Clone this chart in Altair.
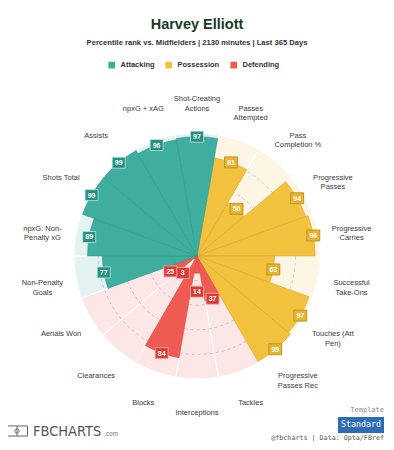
import math
import altair as alt
import pandas as pd

# ---------------- data ----------------
metrics = ["Passes\nAttempted", "Pass\nCompletion %", "Progressive\nPasses", "Progressive\nCarries",
           "Successful\nTake-Ons", "Touches (Att\nPen)", "Progressive\nPasses Rec",
           "Tackles", "Interceptions", "Blocks", "Clearances", "Aerials Won",
           "Non-Penalty\nGoals", "npxG: Non-\nPenalty xG", "Shots Total", "Assists",
           "npxG + xAG", "Shot-Creating\nActions"]
values = [81, 50, 94, 96, 63, 97, 99,
          37, 14, 84, 3, 25,
          77, 89, 99, 99, 96, 97]
groups = ["Possession"] * 7 + ["Defending"] * 5 + ["Attacking"] * 6

group_names = ["Attacking", "Possession", "Defending"]
bar_colors = ["#3fae9f", "#f2c13e", "#ee5b53"]
bg_colors = ["#e4f2f1", "#fdf6e4", "#fde6e6"]
edge_colors = ["#2f978a", "#d6a630", "#d9463f"]
box_fills = ["#26907f", "#e8b42e", "#dc3b35"]
box_edges = ["#bfe4de", "#b88c1a", "#f5b3ae"]
grid_levels = [20, 40, 60, 80]

title_text = "Harvey Elliott"
subtitle_text = "Percentile rank vs. Midfielders | 2130 minutes | Last 365 Days"
footer_text = "@fbcharts | Data: Opta/FBref"

# ---------------- layout ----------------
W, H = 378, 434
CX, CY, R = 189, 248, 123
N = len(metrics)
START = math.pi / 18
LABEL_PCT = 127.6
FONT = "Liberation Sans, Arial, Helvetica, sans-serif"
MONO = "DejaVu Sans Mono, monospace"

gi = {g: i for i, g in enumerate(group_names)}
df = pd.DataFrame({"metric": metrics, "value": values, "group": groups, "idx": list(range(N))})
df["t0"] = df["idx"]
df["t1"] = df["idx"] + 1
df["tm"] = df["idx"] + 0.5
df["full"] = 100
df["bg"] = [bg_colors[gi[g]] for g in groups]
df["edge"] = [edge_colors[gi[g]] for g in groups]
df["boxfill"] = [box_fills[gi[g]] for g in groups]
df["boxedge"] = [box_edges[gi[g]] for g in groups]
df["lpct"] = [v if v >= 20 else v + 15 for v in values]
df["cpct"] = LABEL_PCT
df["vtxt"] = [str(v) for v in values]

grid = pd.DataFrame({"level": grid_levels, "t0": [0] * len(grid_levels), "t1": [N] * len(grid_levels)})

ts = alt.Scale(domain=[0, N], range=[START, START + 2 * math.pi])
rs = alt.Scale(type="linear", domain=[0, 100], range=[0, R], zero=True)
xs = alt.Scale(domain=[-100, 100], range=[CX - R, CX + R])
ys = alt.Scale(domain=[-100, 100], range=[CY + R, CY - R])

base = alt.Chart(df)
center = dict(x=alt.value(CX), y=alt.value(CY))

bg = base.mark_arc(stroke="#ffffff", strokeWidth=1).encode(
    theta=alt.Theta("t0:Q", scale=ts), theta2=alt.Theta2("t1:Q"),
    radius=alt.Radius("full:Q", scale=rs),
    fill=alt.Fill("bg:N", scale=None), **center)

grid_layer = alt.Chart(grid).mark_arc(fillOpacity=0, stroke="#b9b9b9", strokeWidth=0.8,
                                      strokeDash=[3, 3]).encode(
    theta=alt.Theta("t0:Q", scale=ts), theta2=alt.Theta2("t1:Q"),
    radius=alt.Radius("level:Q", scale=rs), **center)

bars = base.mark_arc(strokeWidth=0.6).encode(
    theta=alt.Theta("t0:Q", scale=ts), theta2=alt.Theta2("t1:Q"),
    radius=alt.Radius("value:Q", scale=rs),
    color=alt.Color("group:N", scale=alt.Scale(domain=group_names, range=bar_colors),
                    legend=alt.Legend(orient="none", legendX=100, legendY=53, direction="horizontal",
                                      title=None, symbolType="square", symbolSize=45,
                                      labelFontSize=7.5, labelFontWeight="bold", labelFont=FONT,
                                      labelColor="#333333", columnPadding=10, labelOffset=5,
                                      symbolStrokeWidth=0, symbolOpacity=1)),
    stroke=alt.Stroke("edge:N", scale=None), **center)

ang = f"{START} + datum.tm * {2 * math.pi / N}"
pos = base.transform_calculate(
    bx=f"datum.lpct * sin({ang})", by=f"datum.lpct * cos({ang})",
    cx=f"datum.cpct * sin({ang})", cy=f"datum.cpct * cos({ang})")

boxes = pos.mark_point(shape="M-1.18,-1L1.18,-1L1.18,1L-1.18,1Z", size=121, filled=True,
                       opacity=1, strokeWidth=0.8).encode(
    x=alt.X("bx:Q", scale=xs, axis=None), y=alt.Y("by:Q", scale=ys, axis=None),
    fill=alt.Fill("boxfill:N", scale=None), stroke=alt.Stroke("boxedge:N", scale=None))

vlabels = pos.mark_text(font=FONT, fontSize=7, fontWeight="bold", color="#ffffff",
                        align="center", baseline="middle", dy=0.5).encode(
    x=alt.X("bx:Q", scale=xs, axis=None), y=alt.Y("by:Q", scale=ys, axis=None), text="vtxt:N")

clabels = pos.mark_text(font=FONT, fontSize=7.5, color="#3a3a3a", align="center",
                        baseline="middle", lineBreak="\n", lineHeight=9.5).encode(
    x=alt.X("cx:Q", scale=xs, axis=None), y=alt.Y("cy:Q", scale=ys, axis=None), text="metric:N")

# ---------------- header & footer ----------------
one = alt.Chart(pd.DataFrame({"title": [title_text], "sub": [subtitle_text], "foot": [footer_text],
                              "tpl": ["Template"], "std": ["Standard"], "logo": ["FBCHARTS"],
                              "com": [".com"]}))

title_l = one.mark_text(font=FONT, fontSize=14.5, fontWeight="bold", color="#183a28",
                        align="center", baseline="middle").encode(
    text="title:N", x=alt.value(CX), y=alt.value(17))
sub_l = one.mark_text(font=FONT, fontSize=7.6, fontWeight="bold", color="#333333",
                      align="center", baseline="middle").encode(
    text="sub:N", x=alt.value(CX), y=alt.value(35))

tpl_l = one.mark_text(font=MONO, fontSize=7, color="#8a8a8a", align="right",
                      baseline="middle").encode(text="tpl:N", x=alt.value(376), y=alt.value(402))
btn = one.mark_rect(color="#2d6cb3").encode(
    x=alt.value(330), x2=alt.value(376), y=alt.value(409), y2=alt.value(425))
btn_t = one.mark_text(font=MONO, fontSize=8.3, color="#ffffff", align="center",
                      baseline="middle").encode(text="std:N", x=alt.value(353), y=alt.value(417))
foot_l = one.mark_text(font=MONO, fontSize=6.7, color="#555555", align="right",
                       baseline="middle").encode(text="foot:N", x=alt.value(376), y=alt.value(430))

icon = one.mark_point(shape="M-1,-0.48L1,-0.48L1,0.48L-1,0.48Z M0,-0.48L0,0.48 "
                            "M0.2,0A0.2,0.2 0 1 1 -0.2,0A0.2,0.2 0 1 1 0.2,0",
                      size=441, filled=False, stroke="#666666", strokeWidth=1, opacity=1).encode(
    x=alt.value(9), y=alt.value(423))
logo = one.mark_text(font="DejaVu Sans Condensed, DejaVu Sans, sans-serif", fontSize=14.5,
                     color="#555555", align="left", baseline="alphabetic").encode(
    text="logo:N", x=alt.value(25), y=alt.value(427.5))
com = one.mark_text(font=FONT, fontSize=6.5, color="#777777", align="left",
                    baseline="alphabetic").encode(text="com:N", x=alt.value(96), y=alt.value(427.5))

chart = alt.layer(bg, grid_layer, bars, boxes, vlabels, clabels,
                  title_l, sub_l, tpl_l, btn, btn_t, foot_l, icon, logo, com).properties(
    width=W, height=H, padding=0, autosize=alt.AutoSizeParams(type="none"),
    background="#ffffff"
).configure_view(strokeWidth=0)

chart.save("out.html", embed_options={"renderer": "svg", "actions": False})
